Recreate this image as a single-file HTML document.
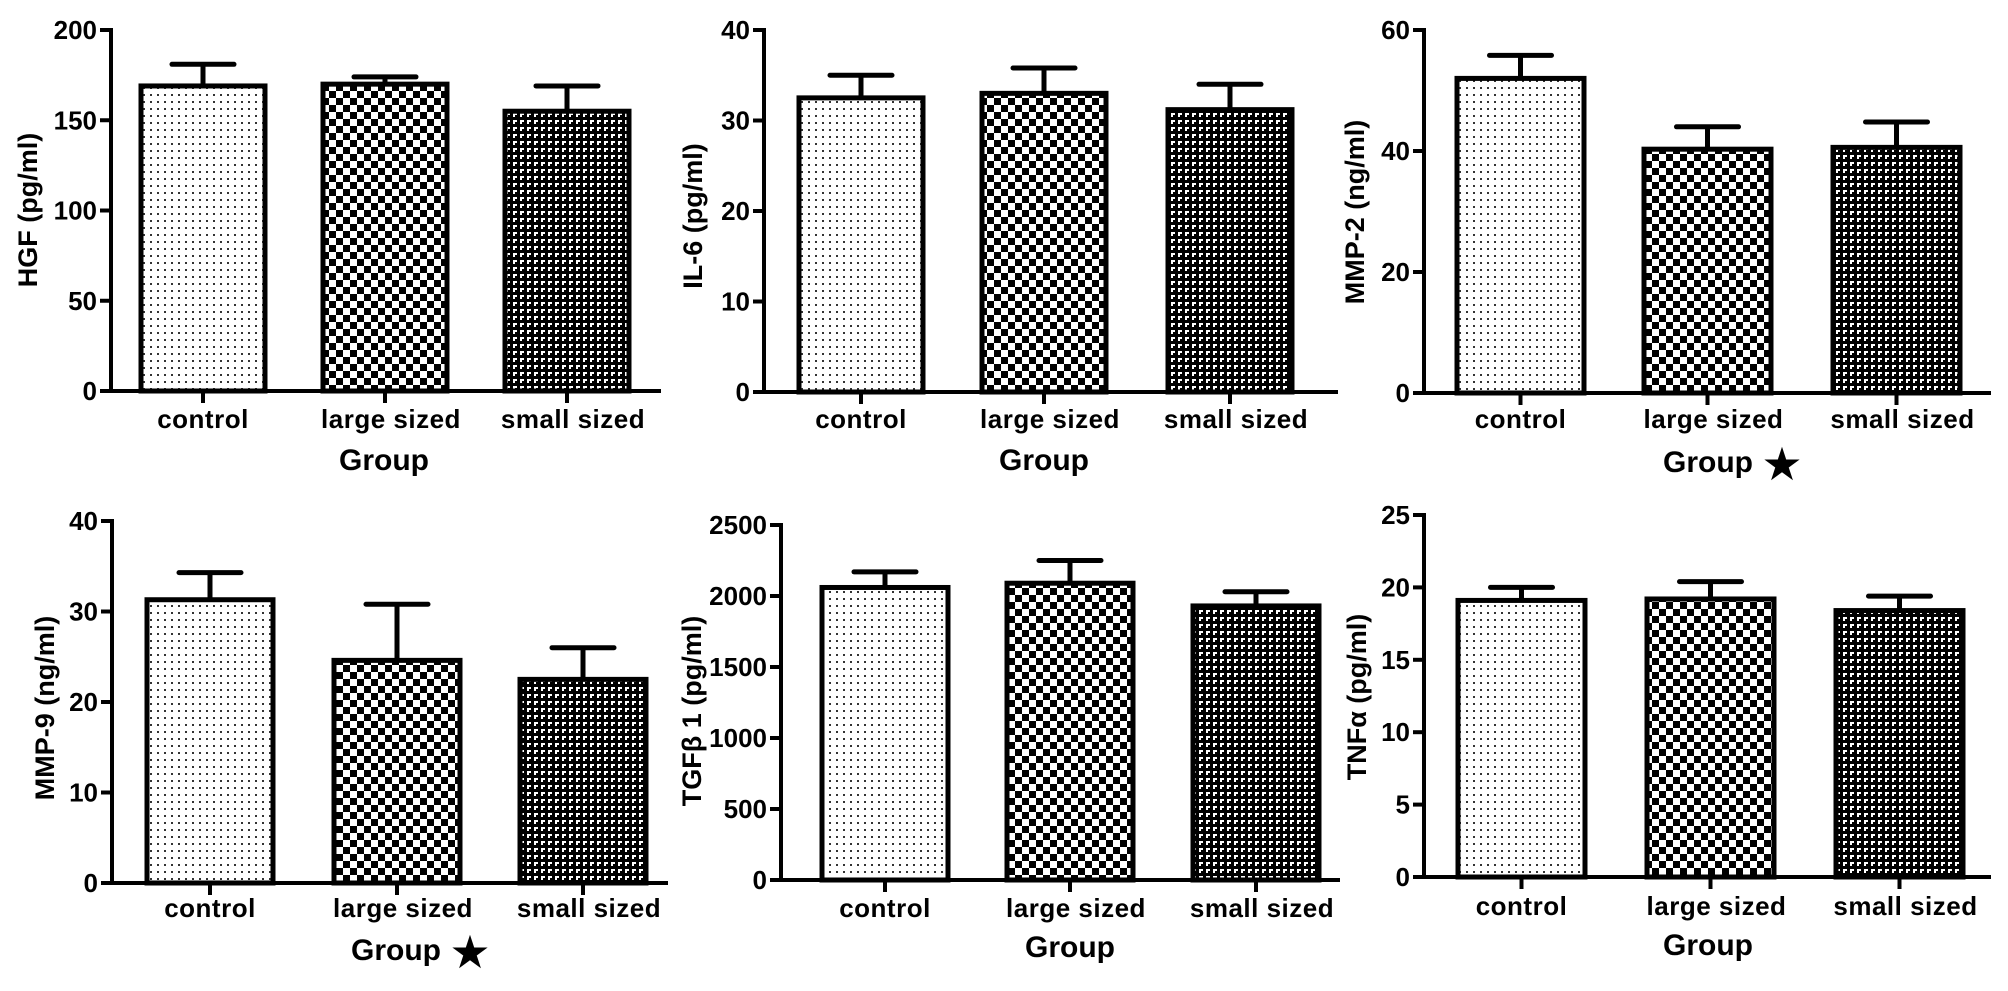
<!DOCTYPE html>
<html><head><meta charset="utf-8"><style>
html,body{margin:0;padding:0;background:#fff;}
svg{display:block;font-family:"Liberation Sans",Arial,sans-serif;font-weight:bold;}
</style></head><body>
<svg id="fig" width="2008" height="991" viewBox="0 0 2008 991" xmlns="http://www.w3.org/2000/svg">
<defs>
<pattern id="pDots" width="7" height="7" patternUnits="userSpaceOnUse"><rect width="7" height="7" fill="#fff"/><rect x="3" y="3" width="2" height="2" fill="#333"/></pattern>
<pattern id="pCheck" width="14" height="14" patternUnits="userSpaceOnUse"><rect width="14" height="14" fill="#fff"/><rect x="0" y="0" width="7" height="7" fill="#000"/><rect x="7" y="7" width="7" height="7" fill="#000"/></pattern>
<pattern id="pSmall" width="7" height="7" patternUnits="userSpaceOnUse"><rect width="7" height="7" fill="#000"/><rect x="2" y="1" width="4" height="2" fill="#fff"/><rect x="2" y="1" width="2" height="4" fill="#fff"/></pattern>
</defs>
</svg>
<script>
const categories = ["control","large sized","small sized"];
const hgfValues = [169,170,155];
const hgfErr = [181,174,169];
const hgfTicks = [0,50,100,150,200];
const il6Values = [32.5,33,31.2];
const il6Err = [35,35.8,34];
const il6Ticks = [0,10,20,30,40];
const mmp2Values = [52,40.3,40.6];
const mmp2Err = [55.8,44,44.8];
const mmp2Ticks = [0,20,40,60];
const mmp9Values = [31.3,24.6,22.5];
const mmp9Err = [34.3,30.8,26];
const mmp9Ticks = [0,10,20,30,40];
const tgfValues = [2060,2090,1930];
const tgfErr = [2170,2250,2030];
const tgfTicks = [0,500,1000,1500,2000,2500];
const tnfValues = [19.1,19.2,18.4];
const tnfErr = [20,20.4,19.4];
const tnfTicks = [0,5,10,15,20,25];

const NS="http://www.w3.org/2000/svg";
const svg=document.getElementById('fig');
function mk(tag,attrs,parent){const e=document.createElementNS(NS,tag);for(const k in attrs)e.setAttribute(k,attrs[k]);(parent||svg).appendChild(e);return e;}
const fills=["url(#pDots)","url(#pCheck)","url(#pSmall)"];

const panels=[
 {name:"hgf",title:"HGF (pg/ml)",vals:hgfValues,err:hgfErr,ticks:hgfTicks,ax:111,y0:391,yTop:30,xEnd:661,bars:[141,323,505],bw:124,tx:27,ty:210,lblY:428,grpY:470,grpX:384,star:false,clip:2008},
 {name:"il6",title:"IL-6 (pg/ml)",vals:il6Values,err:il6Err,ticks:il6Ticks,ax:764,y0:392,yTop:30,xEnd:1338,bars:[799,982,1168],bw:124,tx:692,ty:216,lblY:428,grpY:470,grpX:1044,star:false,clip:2008},
 {name:"mmp2",title:"MMP-2 (ng/ml)",vals:mmp2Values,err:mmp2Err,ticks:mmp2Ticks,ax:1424,y0:393,yTop:30,xEnd:1991,bars:[1457,1644,1833],bw:127,tx:1354,ty:212,lblY:428,grpY:472,grpX:1708,star:true,starX:1782,clip:2008},
 {name:"mmp9",title:"MMP-9 (ng/ml)",vals:mmp9Values,err:mmp9Err,ticks:mmp9Ticks,ax:112,y0:883,yTop:521,xEnd:668,bars:[147,334,520],bw:126,tx:44,ty:708,lblY:917,grpY:960,grpX:396,star:true,starX:470,clip:672},
 {name:"tgf",title:"TGFβ 1 (pg/ml)",vals:tgfValues,err:tgfErr,ticks:tgfTicks,ax:781,y0:880,yTop:525,xEnd:1340,bars:[822,1007,1193],bw:126,tx:691,ty:711,lblY:917,grpY:957,grpX:1070,star:false,clip:1336},
 {name:"tnf",title:"TNFα (pg/ml)",vals:tnfValues,err:tnfErr,ticks:tnfTicks,ax:1424,y0:877,yTop:515,xEnd:1991,bars:[1458,1647,1836],bw:127,tx:1356,ty:697,lblY:915,grpY:955,grpX:1708,star:false,clip:2008}
];

panels.forEach((p,pi)=>{
  const g=mk('g',{});
  
  
  const cp=mk('clipPath',{id:'clip'+pi},g);
  mk('rect',{x:0,y:0,width:p.clip,height:991},cp);
  const max=p.ticks[p.ticks.length-1];
  const yS=v=>p.y0-(v/max)*(p.y0-p.yTop);
  // bars
  p.vals.forEach((v,i)=>{
    const x=p.bars[i], cx=x+p.bw/2;
    const e=mk('line',{x1:cx,x2:cx,y1:yS(v),y2:yS(p.err[i]),stroke:'#000','stroke-width':5},g);
    
    
    const c=mk('line',{x1:cx-31,x2:cx+31,y1:yS(p.err[i]),y2:yS(p.err[i]),stroke:'#000','stroke-width':5,'stroke-linecap':'round'},g);
    
    
    const r=mk('rect',{x:x,y:yS(v),width:p.bw,height:p.y0-yS(v),fill:fills[i],stroke:'#000','stroke-width':5},g);
    
    
  });
  // axes
  const ya=mk('line',{x1:p.ax,x2:p.ax,y1:p.yTop-2,y2:p.y0+2,stroke:'#000','stroke-width':4},g);
  
  
  const xa=mk('line',{x1:p.ax-2,x2:p.xEnd,y1:p.y0,y2:p.y0,stroke:'#000','stroke-width':4},g);
  
  
  p.ticks.forEach(t=>{
    const y=yS(t);
    mk('line',{x1:p.ax-11,x2:p.ax,y1:y,y2:y,stroke:'#000','stroke-width':4},g);
    const tl=mk('text',{x:p.ax-14,y:y+9,'text-anchor':'end','font-size':26},g);
    tl.textContent=t;
    
    
  });
  const lg=mk('g',{'clip-path':'url(#clip'+pi+')'},g);
  categories.forEach((c,i)=>{
    const cx=p.bars[i]+p.bw/2;
    mk('line',{x1:cx,x2:cx,y1:p.y0,y2:p.y0+12,stroke:'#000','stroke-width':4},g);
    const tl=mk('text',{x:cx+(i==0?0:6),y:p.lblY,'text-anchor':'middle','font-size':26,'letter-spacing':'0.5'},lg);
    tl.textContent=c;
    
    
  });
  const gt=mk('text',{x:p.grpX,y:p.grpY,'text-anchor':'middle','font-size':30},g);
  gt.textContent='Group';
  
  
  if(p.star){
    const st=mk('text',{x:p.starX,y:p.grpY+8,'text-anchor':'middle','font-size':46,'font-family':'DejaVu Sans'},g);
    st.textContent='★';
    
    
  }
  const yt=mk('text',{x:0,y:0,'text-anchor':'middle','font-size':27,transform:'translate('+(p.tx+10)+','+p.ty+') rotate(-90)'},g);
  yt.textContent=p.title;
  
  
});
</script>
</body></html>
